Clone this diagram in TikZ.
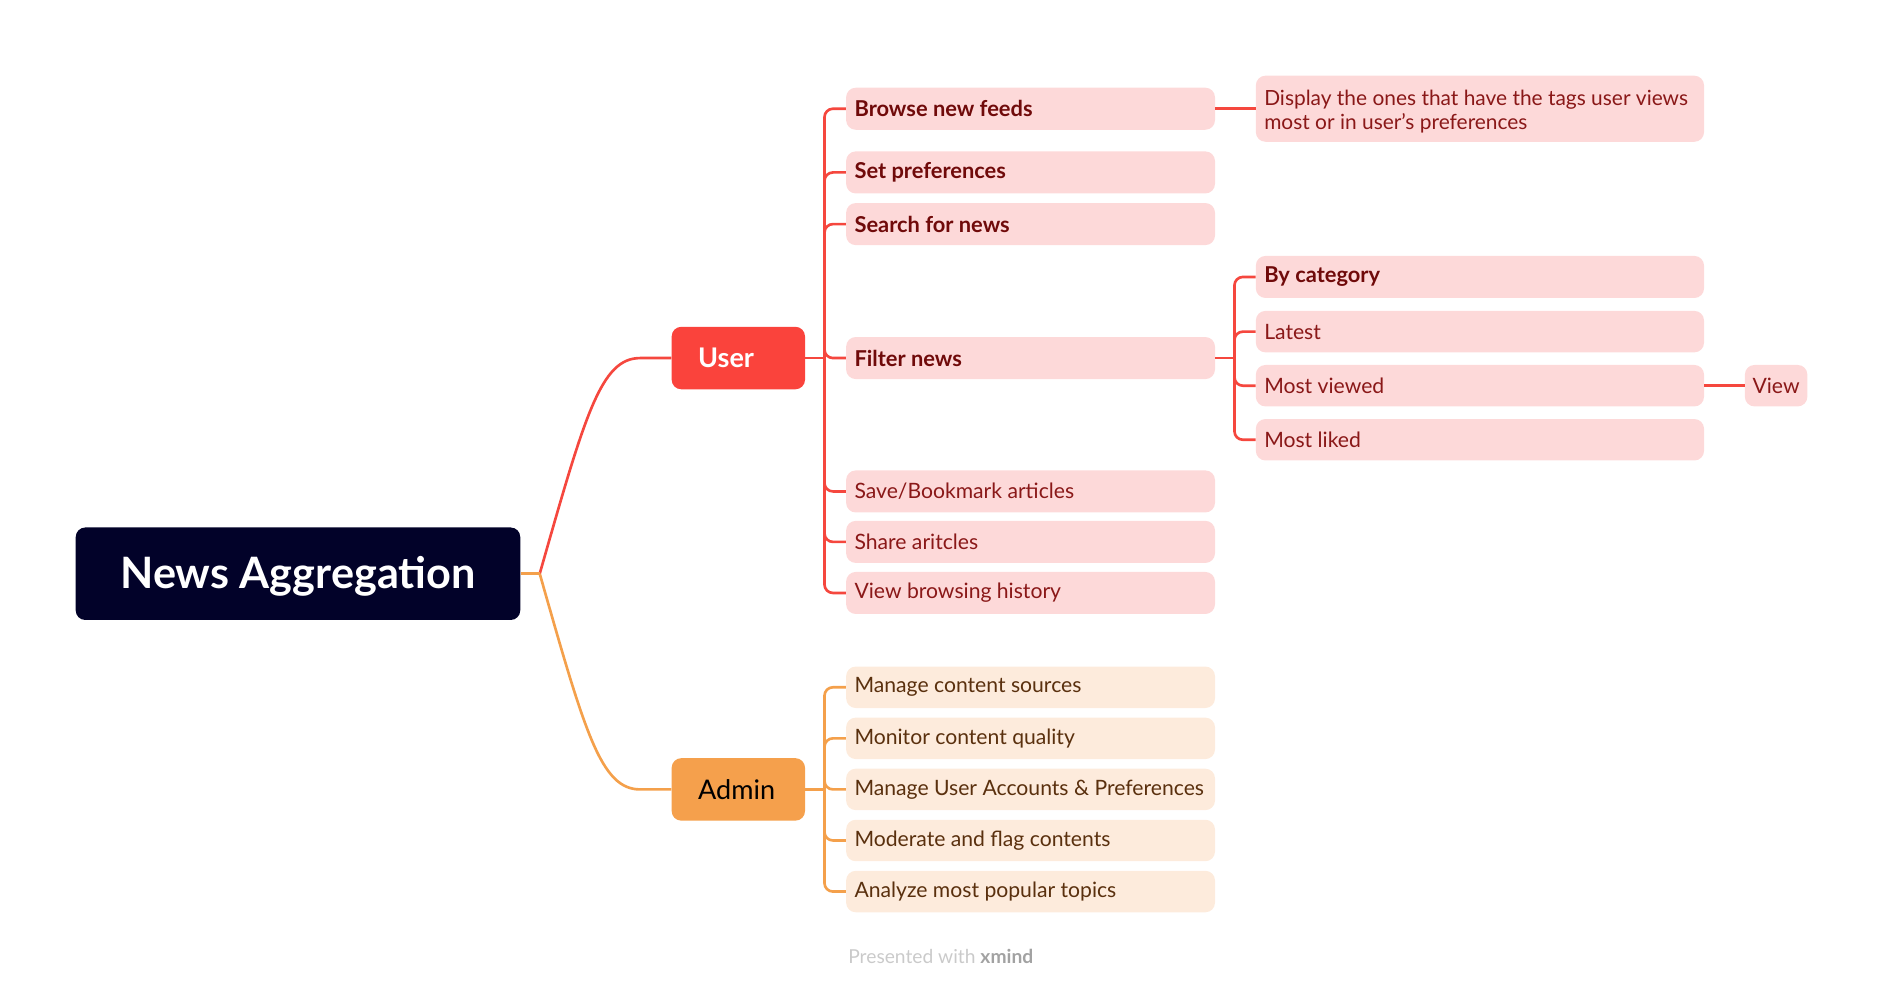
\documentclass[tikz,border=0pt]{standalone}
\usepackage{fontspec}
\setmainfont{Lato}
\usetikzlibrary{calc}
\definecolor{rootfill}{HTML}{020229}
\definecolor{userfill}{HTML}{FA433C}
\definecolor{adminfill}{HTML}{F5A04C}
\definecolor{redline}{HTML}{F5473E}
\definecolor{orline}{HTML}{F4A04B}
\definecolor{pinkfill}{HTML}{FDD9D9}
\definecolor{orfill}{HTML}{FDEBDC}
\definecolor{redbold}{HTML}{700A0A}
\definecolor{redreg}{HTML}{8A1818}
\definecolor{ortxt}{HTML}{5A300E}
\definecolor{foottxt}{HTML}{CACACA}
\newcommand\lb[2]{\makebox[#1pt][l]{#2}}
\begin{document}
\begin{tikzpicture}[x=1pt,y=-1pt,
  rootbox/.style={fill=rootfill, rounded corners=8pt, minimum width=370, minimum height=77, text=white, font=\fontsize{36}{40}\selectfont\bfseries, inner sep=0},
  mainbox/.style={rounded corners=8pt, minimum width=111, minimum height=52, inner xsep=22, inner ysep=0, font=\fontsize{22.5}{26}\selectfont},
  ubox/.style={fill=pinkfill, rounded corners=8pt, minimum height=35, minimum width=307, anchor=west, inner xsep=7, inner ysep=0, font=\fontsize{17.6}{20}\selectfont, text=redreg},
  ubold/.style={ubox, text=redbold, font=\fontsize{18.2}{20}\selectfont\bfseries},
  abox/.style={ubox, fill=orfill, text=ortxt, minimum height=34.5},
  rline/.style={draw=redline, line width=2.2pt},
  oline/.style={draw=orline, line width=2.2pt},
  brk/.style={rounded corners=7pt}
]
\useasboundingbox (0,0) rectangle (1568,822);

% main nodes
\node[rootbox] (root) at (248,477.5) {\raisebox{-12.5pt}[0pt][0pt]{News Aggregation}};
\node[mainbox, fill=userfill, text=white, font=\fontsize{22.5}{26}\selectfont\bfseries] (user) at (614.5,298) {\makebox[67pt][l]{User}};
\node[mainbox, fill=adminfill, text=black] (admin) at (614.5,657) {\makebox[67pt][l]{Admin}};

% user children
\node[ubold] (browse) at (704,90.5) {\lb{293}{Browse new feeds}};
\node[ubold] (setp) at (704,143.5) {\lb{293}{Set preferences}};
\node[ubold] (search) at (704,186.5) {\lb{293}{Search for news}};
\node[ubold] (filter) at (704,298) {\lb{293}{Filter news}};
\node[ubox] (save) at (704,409) {\lb{293}{Save/Bookmark articles}};
\node[ubox] (share) at (704,451) {\lb{293}{Share aritcles}};
\node[ubox] (viewh) at (704,493.5) {\lb{293}{View browsing history}};

% browse detail
\node[ubox, minimum width=373, minimum height=55, font=\fontsize{17.4}{20}\selectfont] (display) at (1045,90.5)
  {\raisebox{-2pt}[\height][\depth]{\parbox[c]{359pt}{\raggedright Display the ones that have the tags user views\\most or in user’s preferences}}};

% filter children
\node[ubold, minimum width=373] (bycat) at (1045,230.5) {\lb{359}{By category}};
\node[ubox, minimum width=373, minimum height=34.5] (latest) at (1045,276) {\lb{359}{Latest}};
\node[ubox, minimum width=373, minimum height=34.5] (mostv) at (1045,321) {\lb{359}{Most viewed}};
\node[ubox, minimum width=373, minimum height=34.5] (mostl) at (1045,366) {\lb{359}{Most liked}};
\node[ubox, minimum width=52, minimum height=34.5, inner xsep=0] (viewn) at (1452,321) {\makebox[52pt][c]{View}};

% admin children
\node[abox] (src) at (704,572) {\lb{293}{Manage content sources}};
\node[abox] (qual) at (704,614.5) {\lb{293}{Monitor content quality}};
\node[abox] (acct) at (704,657) {\lb{293}{Manage User Accounts \& Preferences}};
\node[abox] (mod) at (704,699.5) {\lb{293}{Moderate and flag contents}};
\node[abox] (topics) at (704,742) {\lb{293}{Analyze most popular topics}};

% footer
\node[text=foottxt, font=\fontsize{16}{18}\selectfont] (foot) at (783,796) {Presented with \textbf{\color{foottxt!80!black}xmind}};

% connectors root
\coordinate (rj) at ($(root.east)+(16,0)$);
\coordinate (uin) at ($(user.west)+(-26,0)$);
\coordinate (ain) at ($(admin.west)+(-26,0)$);
\draw[rline] (rj) .. controls (487,345) and (500,298) .. (uin) -- (user.west);
\draw[oline] (rj) .. controls (487,610) and (500,657) .. (ain) -- (admin.west);
\draw[oline] (root.east) -- (rj);

% user bracket
\coordinate (uj) at ($(user.east)+(16,0)$);
\draw[rline] (user.east) -- (uj);
\foreach \c in {browse,setp,search,filter,save,share,viewh}
  \draw[rline,brk] (uj) |- (\c.west);

% browse -> display
\draw[rline] (browse.east) -- (display.west);

% filter bracket
\coordinate (fj) at ($(filter.east)+(16,0)$);
\draw[rline] (filter.east) -- (fj);
\foreach \c in {bycat,latest,mostv,mostl}
  \draw[rline,brk] (fj) |- (\c.west);
\draw[rline] (mostv.east) -- (viewn.west);

% admin bracket
\coordinate (aj) at ($(admin.east)+(16,0)$);
\draw[oline] (admin.east) -- (aj);
\foreach \c in {src,qual,acct,mod,topics}
  \draw[oline,brk] (aj) |- (\c.west);
\end{tikzpicture}
\end{document}
